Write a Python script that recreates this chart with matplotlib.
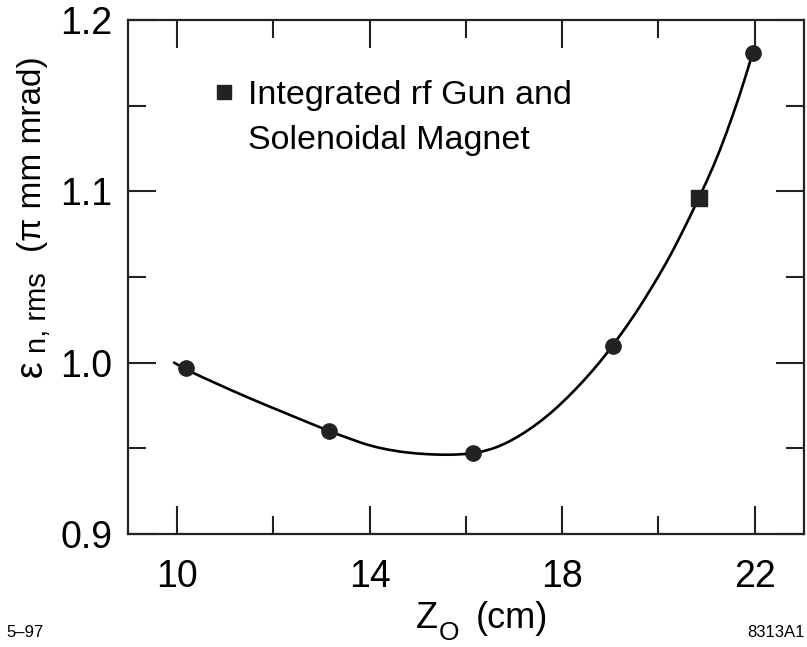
import matplotlib
matplotlib.use('Agg')
import matplotlib.pyplot as plt
from matplotlib.lines import Line2D
from matplotlib.path import Path
from matplotlib.patches import PathPatch

plt.rcParams['font.family'] = ['Liberation Sans', 'DejaVu Sans']

# measured points (circles)
z_points = [10.18, 13.16, 16.14, 19.05, 21.96]
eps_points = [0.997, 0.960, 0.947, 1.010, 1.181]

# integrated rf gun + solenoid (square)
z_square = [20.84]
eps_square = [1.096]

# fitted curve
z_curve = [9.94, 10.18, 10.8, 11.52, 12.3, 13.16, 13.6, 14.0, 14.5, 15.0, 15.5,
           15.8, 16.14, 16.45, 16.75, 17.05, 17.4, 17.75, 18.09, 18.45, 18.79, 19.05,
           19.45, 19.83, 20.15, 20.45, 20.84, 21.15, 21.4, 21.7, 21.96]
eps_curve = [1.000, 0.996, 0.988, 0.979, 0.970, 0.960, 0.9555, 0.9515, 0.9485, 0.9468, 0.9462,
             0.9463, 0.947, 0.9488, 0.9518, 0.9562, 0.9625, 0.9702, 0.979, 0.9895, 1.0005, 1.010,
             1.0255, 1.0424, 1.0575, 1.0735, 1.096, 1.115, 1.133, 1.157, 1.181]

x_ticks = [10, 14, 18, 22]
y_ticks = [0.9, 1.0, 1.1, 1.2]

fig = plt.figure(figsize=(8.07, 6.47), dpi=100)
ax = fig.add_axes([0.1582, 0.1747, 0.8385, 0.7944])

# smooth the read-off curve: read points act as quadratic control points
pts = list(zip(z_curve, eps_curve))
verts = [pts[0]]
codes = [Path.MOVETO]
for i in range(1, len(pts) - 1):
    mid = ((pts[i][0] + pts[i + 1][0]) / 2, (pts[i][1] + pts[i + 1][1]) / 2)
    verts += [pts[i], mid]
    codes += [Path.CURVE3, Path.CURVE3]
verts.append(pts[-1])
codes.append(Path.LINETO)
ax.add_patch(PathPatch(Path(verts, codes), facecolor='none', edgecolor='black',
                       lw=1.9, capstyle='round', zorder=2))

ax.plot(z_points, eps_points, 'o', color='#222222', ms=11, zorder=3)
sq, = ax.plot(z_square, eps_square, 's', color='#222222', ms=11.5, zorder=3)

ax.set_xlim(8.975, 23.03)
ax.set_ylim(0.9, 1.2)
ax.set_xticks(x_ticks)
ax.set_xticks([12, 16, 20], minor=True)
ax.set_yticks(y_ticks)
ax.set_yticks([0.95, 1.05, 1.15], minor=True)
ax.set_yticklabels(['0.9', '1.0', '1.1', '1.2'])

ax.tick_params(which='both', direction='in', top=True, right=True, width=1.5,
               labelsize=27, color='#222222')
ax.tick_params(which='major', length=20)
ax.tick_params(which='minor', length=13)
ax.tick_params(axis='x', which='major', pad=18)
ax.tick_params(axis='y', which='major', pad=11)
for s in ax.spines.values():
    s.set_linewidth(1.6)
    s.set_color('#222222')

# x axis label: Z with a lowered O, then the unit
fig.text(416 / 807, 1 - 628 / 647, 'Z', fontsize=26, va='baseline')
fig.text(439 / 807, 1 - 640 / 647, 'O', fontsize=19, va='baseline')
fig.text(476 / 807, 1 - 628 / 647, '(cm)', fontsize=26, va='baseline')

# y axis label: epsilon with a lowered "n, rms", then the unit
ax.text(-0.142, 0.322, 'ε', fontsize=27, rotation=90, ha='center', va='center',
        transform=ax.transAxes)
ax.text(-0.132, 0.43, 'n, rms', fontsize=21, rotation=90, ha='center', va='center',
        transform=ax.transAxes)
ax.text(-0.14, 0.74, '(π mm mrad)', fontsize=24, rotation=90, ha='center', va='center',
        transform=ax.transAxes)

blank = Line2D([], [], linestyle='none', marker='none')
ax.legend([sq, blank], ['Integrated rf Gun and', 'Solenoidal Magnet'],
          loc='upper left', bbox_to_anchor=(0.103, 0.916), frameon=False,
          fontsize=24.5, handlelength=0.55, handletextpad=0.45, labelspacing=0.42,
          borderpad=0, markerscale=0.9)

fig.text(0.008, 0.015, '5–97', fontsize=12)
fig.text(0.997, 0.015, '8313A1', fontsize=12, ha='right')

fig.savefig('out.png', dpi=100)
